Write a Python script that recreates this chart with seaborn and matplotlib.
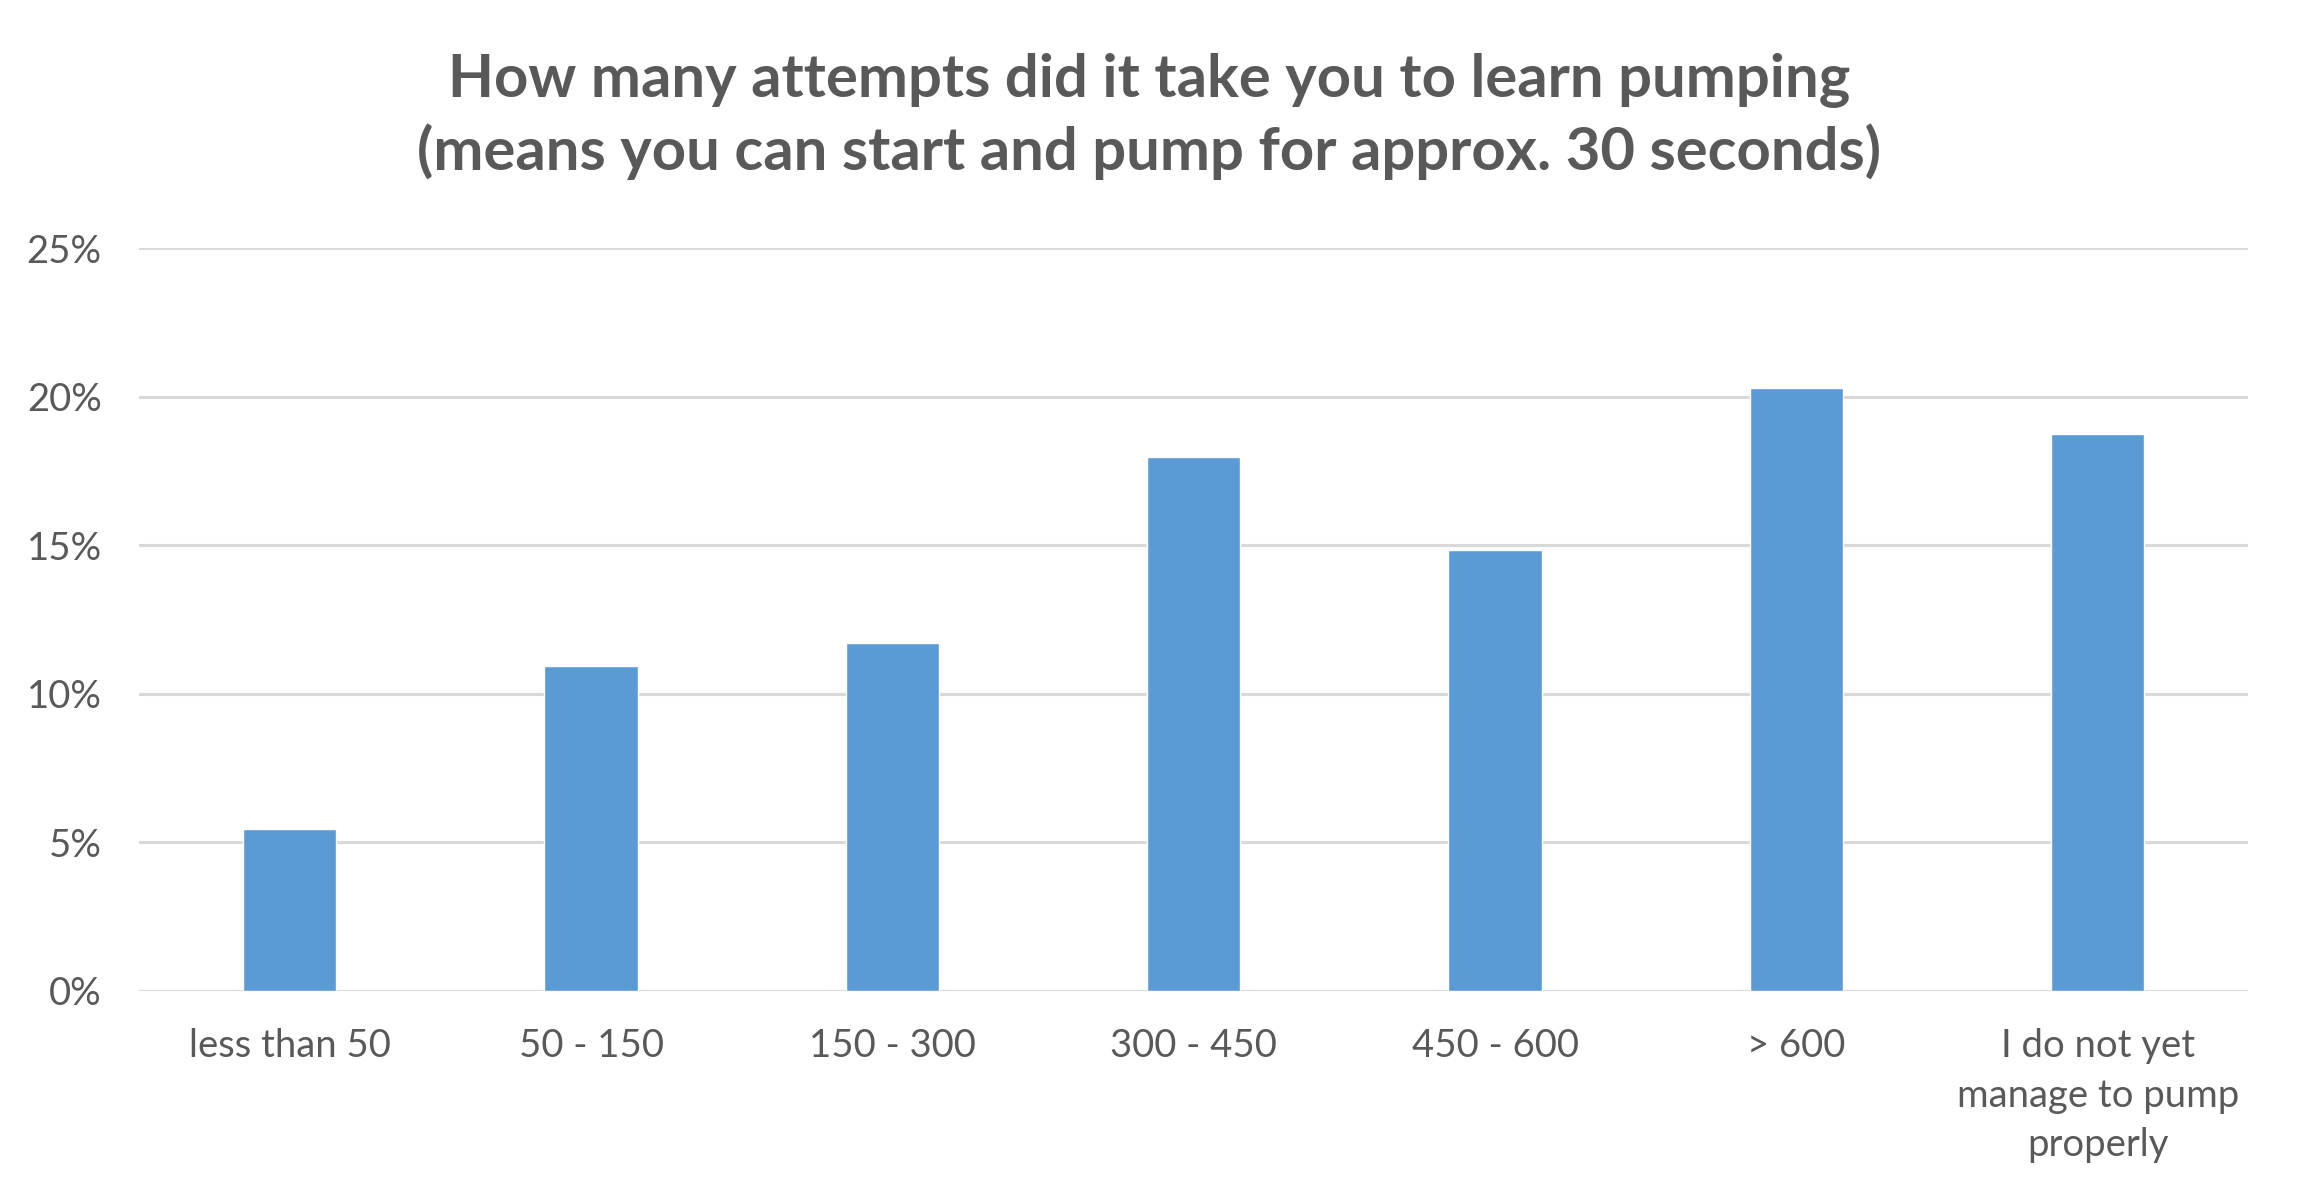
import matplotlib.pyplot as plt
import seaborn as sns
import pandas as pd
from matplotlib.ticker import PercentFormatter

# values
categories = ['less than 50', '50 - 150', '150 - 300', '300 - 450', '450 - 600', '> 600',
              'I do not yet\nmanage to pump\nproperly']
shares = [0.0545, 0.1095, 0.1172, 0.1797, 0.1485, 0.2031, 0.1876]
y_ticks = [0, 0.05, 0.10, 0.15, 0.20, 0.25]

df = pd.DataFrame({'attempts': categories, 'share': shares})

sns.set_style('white')
plt.rcParams['font.family'] = ['Lato', 'DejaVu Sans']

grey = '#595959'
fig = plt.figure(figsize=(22.99, 11.99), dpi=100)
ax = fig.add_axes([0.0605, 0.1735, 0.9175, 0.6195])

sns.barplot(x='attempts', y='share', data=df, color='#5b9bd5', saturation=1,
            width=0.31, ax=ax, zorder=3)

ax.set_ylim(0, 0.25)
ax.set_xlim(-0.5, len(categories) - 0.5)
ax.set_yticks(y_ticks)
ax.yaxis.set_major_formatter(PercentFormatter(1.0, decimals=0))
ax.grid(axis='y', color='#d9d9d9', linewidth=2.2, zorder=0)
ax.set_axisbelow(True)
for s in ax.spines.values():
    s.set_visible(False)
ax.set_xlabel('')
ax.set_ylabel('')
ax.tick_params(axis='both', length=0, labelsize=27.5, colors=grey)
ax.tick_params(axis='y', pad=27)
ax.tick_params(axis='x', pad=27)
for lbl in ax.get_xticklabels():
    lbl.set_linespacing(1.45)

fig.text(0.500, 0.9025, 'How many attempts did it take you to learn pumping\n'
         '(means you can start and pump for approx. 30 seconds)',
         ha='center', va='center', fontsize=43, fontweight='bold', color=grey,
         linespacing=1.33)

fig.savefig('out.png', dpi=100, facecolor='white')
